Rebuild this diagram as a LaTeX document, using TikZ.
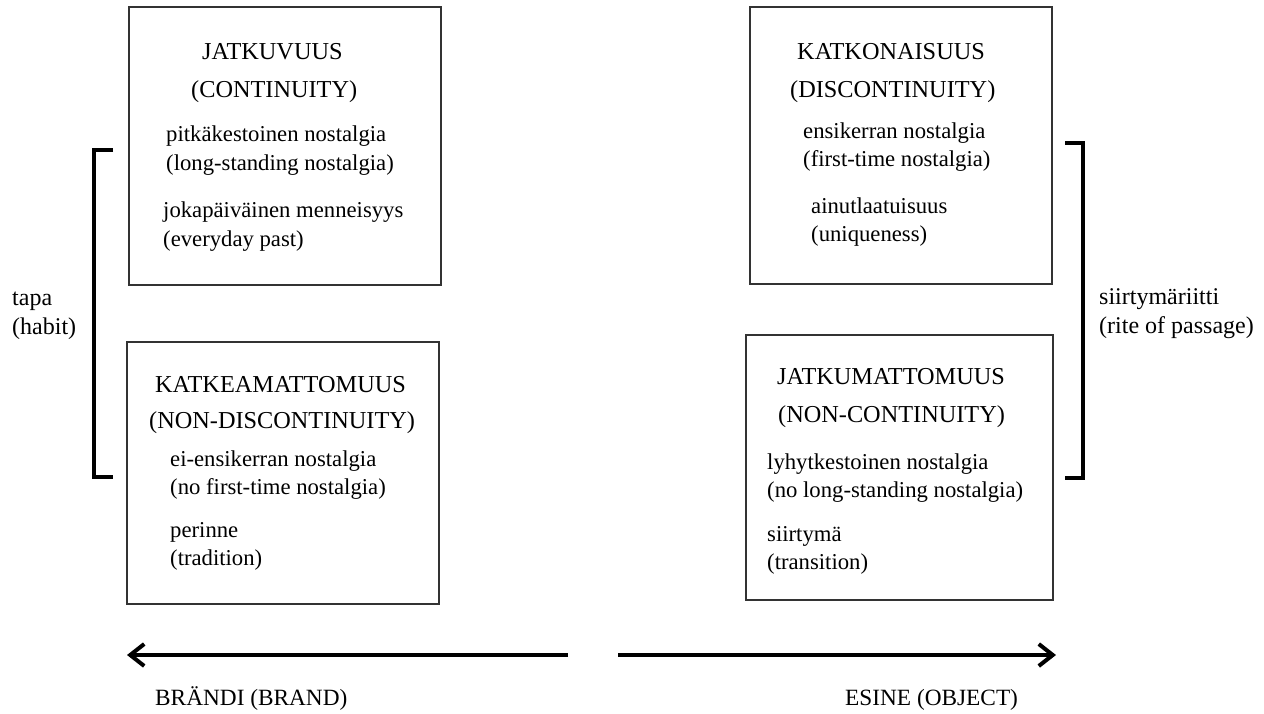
\documentclass[tikz,border=0pt]{standalone}
\usepackage{fontspec}
\setmainfont{Liberation Serif}
\usetikzlibrary{arrows.meta}
\begin{document}
\begin{tikzpicture}[x=1pt,y=-1pt,
  boxst/.style={draw=black!80, line width=1.4pt, inner sep=0, fill=none},
  head/.style={anchor=base west, inner sep=0, font=\fontsize{24.3}{28}\selectfont},
  txt/.style={anchor=base west, inner sep=0, font=\fontsize{22.7}{27}\selectfont},
  side/.style={anchor=base west, inner sep=0, font=\fontsize{24}{28}\selectfont},
  bot/.style={anchor=base west, inner sep=0, font=\fontsize{23.3}{28}\selectfont},
  brk/.style={line width=4.5pt},
  axis/.style={line width=4pt, -{Straight Barb[length=14pt,width=22pt,line width=4pt]}}]
\useasboundingbox (0,0) rectangle (1264,713);
% boxes
\node[boxst, minimum width=312, minimum height=278] (b1) at (285,146) {};
\node[boxst, minimum width=302, minimum height=277] (b2) at (901,145.5) {};
\node[boxst, minimum width=312, minimum height=262] (b3) at (283,473) {};
\node[boxst, minimum width=307, minimum height=265] (b4) at (899.5,467.5) {};
% box 1
\node[head] (t11) at (202,59) {JATKUVUUS};
\node[head] (t12) at (191,97) {(CONTINUITY)};
\node[txt] (t13) at (166,141) {pitkäkestoinen nostalgia};
\node[txt] (t14) at (166,170) {(long-standing nostalgia)};
\node[txt] (t15) at (163,217) {jokapäiväinen menneisyys};
\node[txt] (t16) at (163,246) {(everyday past)};
% box 2
\node[head] (t21) at (797,59) {KATKONAISUUS};
\node[head] (t22) at (790,97) {(DISCONTINUITY)};
\node[txt] (t23) at (803,138) {ensikerran nostalgia};
\node[txt] (t24) at (803,166) {(first-time nostalgia)};
\node[txt] (t25) at (811,213) {ainutlaatuisuus};
\node[txt] (t26) at (811,241) {(uniqueness)};
% box 3
\node[head] (t31) at (155,392) {KATKEAMATTOMUUS};
\node[head] (t32) at (149,428) {(NON-DISCONTINUITY)};
\node[txt] (t33) at (170,466) {ei-ensikerran nostalgia};
\node[txt] (t34) at (170,494) {(no first-time nostalgia)};
\node[txt] (t35) at (170,537) {perinne};
\node[txt] (t36) at (170,565) {(tradition)};
% box 4
\node[head] (t41) at (777,384) {JATKUMATTOMUUS};
\node[head] (t42) at (778,422) {(NON-CONTINUITY)};
\node[txt] (t43) at (767,469) {lyhytkestoinen nostalgia};
\node[txt] (t44) at (767,497) {(no long-standing nostalgia)};
\node[txt] (t45) at (767,541) {siirtymä};
\node[txt] (t46) at (767,569) {(transition)};
% side labels
\node[side] (l1) at (12,305) {tapa};
\node[side] (l2) at (12,334) {(habit)};
\node[side] (r1) at (1099,304) {siirtymäriitti};
\node[side] (r2) at (1099,333) {(rite of passage)};
% brackets
\draw[brk] (113,150) -- (94,150) -- (94,477) -- (113,477);
\draw[brk] (1065,143) -- (1083,143) -- (1083,478) -- (1065,478);
% axis arrows
\coordinate (la) at (568,655);
\coordinate (lb) at (127,655);
\coordinate (ra) at (618,655);
\coordinate (rb) at (1056,655);
\draw[axis] (la) -- (lb);
\draw[axis] (ra) -- (rb);
\node[bot] (brand) at (155,705) {BRÄNDI (BRAND)};
\node[bot] (obj) at (845,705) {ESINE (OBJECT)};
\end{tikzpicture}
\end{document}
